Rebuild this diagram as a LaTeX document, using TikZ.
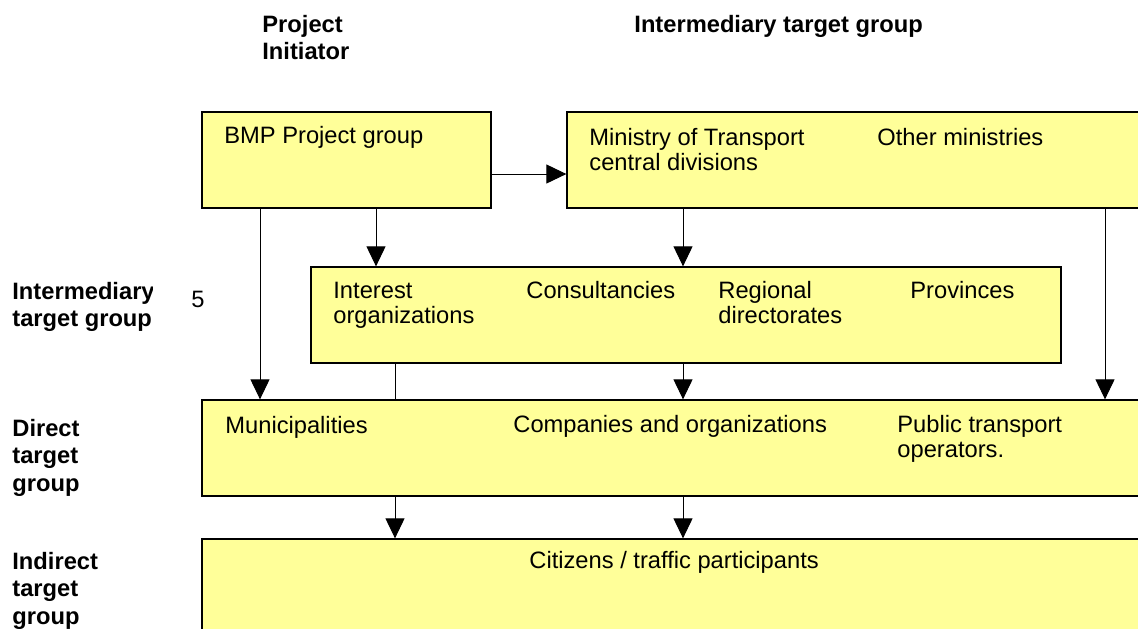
\documentclass[tikz,border=0pt]{standalone}
\usepackage{fontspec}
\setmainfont{Liberation Sans}
\usetikzlibrary{arrows.meta,fit}
\definecolor{boxyellow}{RGB}{255,255,153}

\begin{document}
\begin{tikzpicture}[x=0.5pt,y=-0.5pt,
  every node/.style={inner sep=0pt,font=\fontsize{11.85pt}{12.5pt}\selectfont},
  box/.style={draw,line width=0.65pt,fill=boxyellow},
  txt/.style={anchor=base west,align=left},
  head/.style={anchor=base west,align=left,font=\fontsize{11.85pt}{13.75pt}\selectfont\bfseries},
  arr/.style={line width=0.5pt,-{Triangle[length=10pt,width=9.5pt]}}]
\useasboundingbox (0,0) rectangle (1138,628);

% boxes
\node[box,fit={(202,112) (491,208)}] (bmp) {};
\node[box,fit={(567,112) (1150,208)}] (ministry) {};
\node[box,fit={(311,267) (1061,363)}] (interest) {};
\node[box,fit={(202,400) (1150,496)}] (direct) {};
\node[box,fit={(202,539) (1150,640)}] (indirect) {};

% headings (multi-line nodes sit on the baseline of their last line)
\node[head] (hinit) at (262,59.5) {Project\\Initiator};
\node[head] (hinter) at (634,32) {Intermediary target group};
\begin{scope}
\clip (0,260) rectangle (152,340);
\node[head] (linter) at (12,326.5) {Intermediary\\target group};
\end{scope}
\node[txt] (five) at (191,307) {5};
\node[head] (ldirect) at (12,491) {Direct\\target\\group};
\node[head] (lindirect) at (12,624) {Indirect\\target\\group};

% texts in the boxes
\node[txt] (tbmp) at (224,143) {BMP Project group};
\node[txt] (tmin) at (589,170) {Ministry of Transport\\central divisions};
\node[txt] (tother) at (877,145) {Other ministries};
\node[txt] (tinterest) at (333,323) {Interest\\organizations};
\node[txt] (tcons) at (526,298) {Consultancies};
\node[txt] (treg) at (718,323) {Regional\\directorates};
\node[txt] (tprov) at (910,298) {Provinces};
\node[txt] (tmun) at (225,433) {Municipalities};
\node[txt] (tcomp) at (513,432) {Companies and organizations};
\node[txt] (tpub) at (897,457) {Public transport\\operators.};
\node[txt] (tcit) at (529,568) {Citizens / traffic participants};

% connectors
\draw[arr] (bmp.east |- 0,174) -- (ministry.west |- 0,174);
\foreach \x/\a/\b in {260/bmp/direct,376/bmp/interest,683/ministry/interest,
  1105/ministry/direct,683/interest/direct,395/direct/indirect,683/direct/indirect}{
\draw[arr] (\a.south -| \x,0) -- (\b.north -| \x,0);}
\draw[line width=0.5pt] (interest.south -| 395,0) -- (direct.north -| 395,0);

\end{tikzpicture}
\end{document}
